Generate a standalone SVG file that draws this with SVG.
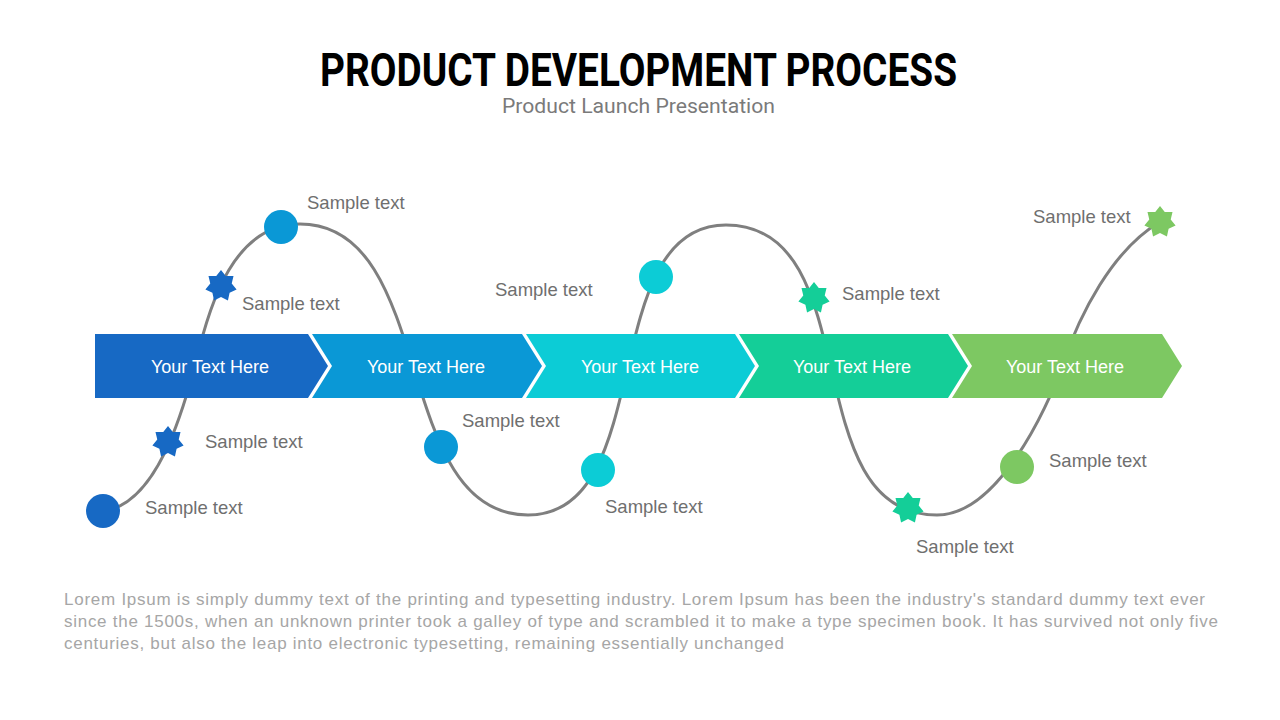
<svg xmlns="http://www.w3.org/2000/svg" xmlns:xlink="http://www.w3.org/1999/xlink" width="1280" height="720" viewBox="0 0 1280 720">
<style>
.title{font-family:Roboto,"Liberation Sans",sans-serif;font-weight:700;font-size:46px;fill:#000}
.sub{font-family:Roboto,"Liberation Sans",sans-serif;font-size:20px;fill:#7a7a7a}
.band{font-family:"Liberation Sans",Arial,sans-serif;font-size:18px;fill:#fff;text-anchor:middle}
.lbl{font-family:"Liberation Sans",Arial,sans-serif;font-size:18.5px;fill:#6f6f6f}
.foot{font-family:"Liberation Sans",Arial,sans-serif;font-size:17px;fill:#a6a6a6}
.curve{fill:none;stroke:#7f7f7f;stroke-width:3}
</style>
<defs>
<polygon id="star" points="0,-16 4.77,-9.91 12.51,-9.98 10.72,-2.45 15.6,3.56 8.6,6.86 6.94,14.42 0,11 -6.94,14.42 -8.6,6.86 -15.6,3.56 -10.72,-2.45 -12.51,-9.98 -4.77,-9.91"/>
</defs>
<rect width="1280" height="720" fill="#fff"/>
<g id="header">
<text class="title" x="638.5" y="86" text-anchor="middle" textLength="637" lengthAdjust="spacingAndGlyphs">PRODUCT DEVELOPMENT PROCESS</text>
<text class="sub" x="638.5" y="112.5" text-anchor="middle" textLength="273" lengthAdjust="spacingAndGlyphs">Product Launch Presentation</text>
</g>
<g id="connectors">
<path class="curve" d="M103,511 C158,505 184,406 195,366 C210,300 235,224 300,224 C437,224 391,515 528,515 C658,515 596,225 726,225 C869,225 794,515 937,515 C997,515 1046.6,410.8 1062,366 C1079.6,314.8 1112,250 1160,222"/>
</g>
<g id="band">
<g id="step1"><polygon points="95,334 308,334 328,366 308,398 95,398" fill="#1769C4"/><text class="band" x="210" y="372.5">Your Text Here</text></g>
<g id="step2"><polygon points="312,334 522,334 542,366 522,398 312,398 332,366" fill="#0A98D6"/><text class="band" x="426" y="372.5">Your Text Here</text></g>
<g id="step3"><polygon points="526,334 735,334 755,366 735,398 526,398 546,366" fill="#0CCCD6"/><text class="band" x="640" y="372.5">Your Text Here</text></g>
<g id="step4"><polygon points="739,334 948,334 968,366 948,398 739,398 759,366" fill="#14CE98"/><text class="band" x="852" y="372.5">Your Text Here</text></g>
<g id="step5"><polygon points="952,334 1162,334 1182,366 1162,398 952,398 972,366" fill="#7DC862"/><text class="band" x="1065" y="372.5">Your Text Here</text></g>
</g>
<g id="m1"><circle cx="103" cy="511" r="17" fill="#1769C4"/><text class="lbl" x="145" y="513.5">Sample text</text></g>
<g id="m2"><use href="#star" x="168" y="442" fill="#1769C4"/><text class="lbl" x="205" y="447.5">Sample text</text></g>
<g id="m3"><use href="#star" x="221" y="286" fill="#1769C4"/><text class="lbl" x="242" y="309.5">Sample text</text></g>
<g id="m4"><circle cx="281" cy="227" r="17" fill="#0A98D6"/><text class="lbl" x="307" y="208.5">Sample text</text></g>
<g id="m5"><circle cx="441" cy="447" r="17" fill="#0A98D6"/><text class="lbl" x="462" y="426.5">Sample text</text></g>
<g id="m6"><circle cx="598" cy="470" r="17" fill="#0CCCD6"/><text class="lbl" x="605" y="512.5">Sample text</text></g>
<g id="m7"><circle cx="656" cy="277" r="17" fill="#0CCCD6"/><text class="lbl" x="495" y="295.5">Sample text</text></g>
<g id="m8"><use href="#star" x="814" y="298" fill="#14CE98"/><text class="lbl" x="842" y="299.5">Sample text</text></g>
<g id="m9"><use href="#star" x="908" y="508" fill="#14CE98"/><text class="lbl" x="916" y="552.5">Sample text</text></g>
<g id="m10"><circle cx="1017" cy="467" r="17" fill="#7DC862"/><text class="lbl" x="1049" y="466.5">Sample text</text></g>
<g id="m11"><use href="#star" x="1160" y="222" fill="#7DC862"/><text class="lbl" x="1033" y="222.5">Sample text</text></g>
<g id="footer">
<text class="foot" x="64" y="605" textLength="1141">Lorem Ipsum is simply dummy text of the printing and typesetting industry. Lorem Ipsum has been the industry's standard dummy text ever</text>
<text class="foot" x="64" y="627" textLength="1154">since the 1500s, when an unknown printer took a galley of type and scrambled it to make a type specimen book. It has survived not only five</text>
<text class="foot" x="64" y="649" textLength="720">centuries, but also the leap into electronic typesetting, remaining essentially unchanged</text>
</g>
</svg>
